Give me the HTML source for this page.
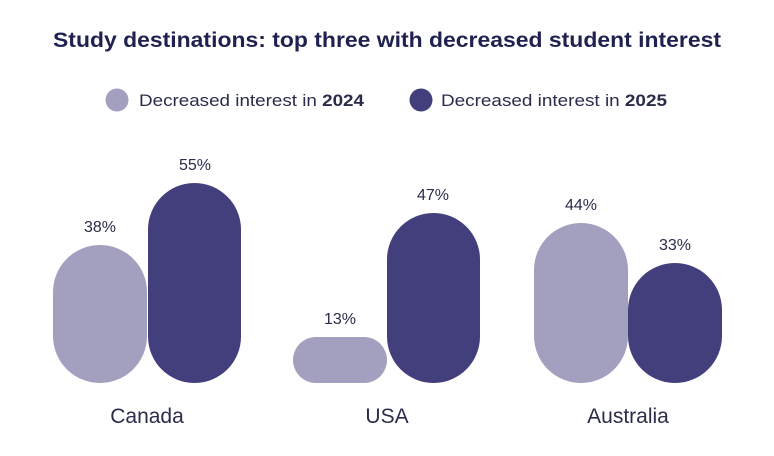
<!DOCTYPE html>
<html><head><meta charset="utf-8"><style>
body{margin:0;background:#fff}
svg{display:block}
text{font-family:"Liberation Sans",sans-serif}
</style></head><body>
<svg width="774" height="456" viewBox="0 0 774 456" xmlns="http://www.w3.org/2000/svg">
<text x="387" y="47" text-anchor="middle" font-size="21" font-weight="bold" fill="#1f2250" textLength="668" lengthAdjust="spacingAndGlyphs">Study destinations: top three with decreased student interest</text>
<circle cx="117" cy="100" r="11.5" fill="#a39fbf"/>
<text x="139" y="106" font-size="17" fill="#2a2c4a" textLength="225" lengthAdjust="spacingAndGlyphs">Decreased interest in <tspan font-weight="bold">2024</tspan></text>
<circle cx="421" cy="100" r="11.5" fill="#423f7c"/>
<text x="441" y="106" font-size="17" fill="#2a2c4a" textLength="226" lengthAdjust="spacingAndGlyphs">Decreased interest in <tspan font-weight="bold">2025</tspan></text>
<g>
<rect x="53" y="245" width="94" height="138" rx="47" fill="#a39fbf"/>
<rect x="148" y="183" width="93" height="200" rx="46.5" fill="#423f7c"/>
<rect x="293" y="337" width="94" height="46" rx="23" fill="#a39fbf"/>
<rect x="387" y="213" width="93" height="170" rx="46.5" fill="#423f7c"/>
<rect x="534" y="223" width="94" height="160" rx="47" fill="#a39fbf"/>
<rect x="628" y="263" width="94" height="120" rx="47" fill="#423f7c"/>
</g>
<g font-size="16" fill="#2a2c4a" text-anchor="middle">
<text x="100" y="232">38%</text>
<text x="195" y="170">55%</text>
<text x="340" y="324">13%</text>
<text x="433" y="200">47%</text>
<text x="581" y="210">44%</text>
<text x="675" y="250">33%</text>
</g>
<g font-size="21" fill="#2a2c4a" text-anchor="middle">
<text x="147" y="423">Canada</text>
<text x="387" y="423">USA</text>
<text x="628" y="423">Australia</text>
</g>
</svg>
</body></html>
